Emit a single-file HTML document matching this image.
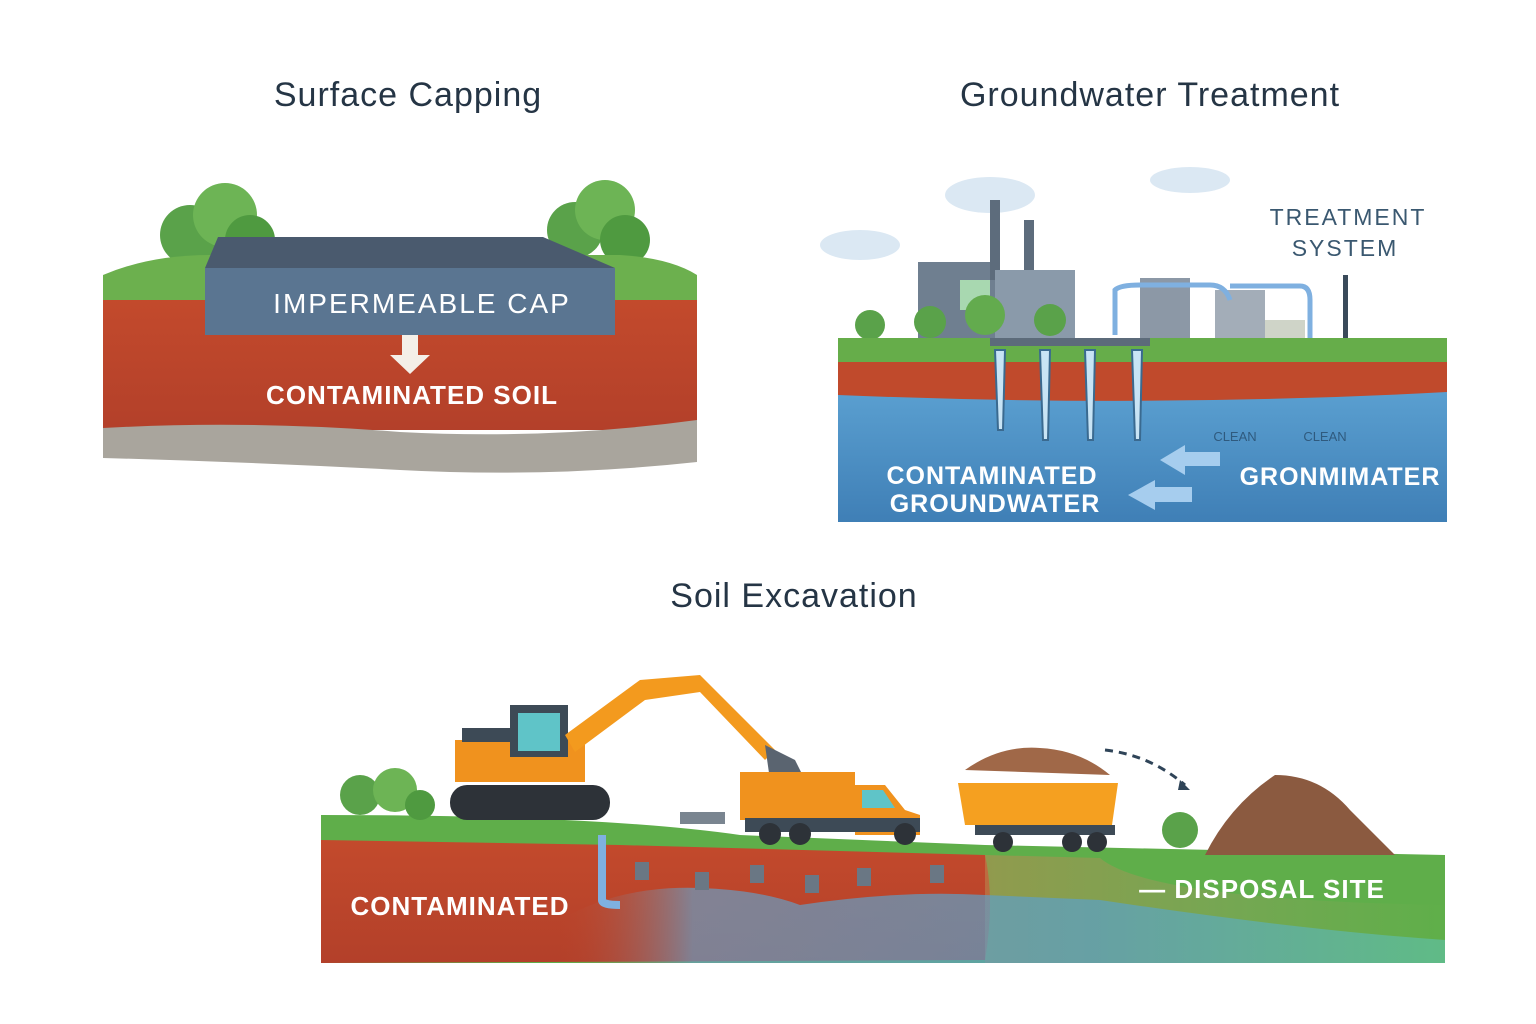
<!DOCTYPE html>
<html><head><meta charset="utf-8"><style>
html,body{margin:0;padding:0;background:#fff;}
svg{display:block}
text{font-family:"Liberation Sans","DejaVu Sans",sans-serif}
</style></head><body>
<svg width="1536" height="1024" viewBox="0 0 1536 1024" xmlns="http://www.w3.org/2000/svg">
<defs>
<linearGradient id="water" x1="0" y1="0" x2="0" y2="1"><stop offset="0" stop-color="#5a9fd0"/><stop offset="1" stop-color="#3f7fb6"/></linearGradient>
<linearGradient id="soil" x1="0" y1="0" x2="0" y2="1"><stop offset="0" stop-color="#c34a2c"/><stop offset="1" stop-color="#b3402a"/></linearGradient>
<linearGradient id="ex" x1="0" y1="0" x2="1" y2="0"><stop offset="0" stop-color="#b98a50"/><stop offset="0.5" stop-color="#8aa05a"/><stop offset="1" stop-color="#5fb04a"/></linearGradient>
<linearGradient id="exb" x1="0" y1="0" x2="1" y2="0"><stop offset="0" stop-color="#c04a2c" stop-opacity="0"/><stop offset="0.15" stop-color="#6a9cc0"/><stop offset="0.6" stop-color="#5aa0c8"/><stop offset="1" stop-color="#60c0a0"/></linearGradient>
</defs>
<rect width="1536" height="1024" fill="#fff"/>
<text x="408" y="106" font-size="34" fill="#253545" text-anchor="middle" letter-spacing="1">Surface Capping</text>
<text x="1150" y="106" font-size="34" fill="#253545" text-anchor="middle" letter-spacing="1">Groundwater Treatment</text>
<text x="794" y="607" font-size="34" fill="#253545" text-anchor="middle" letter-spacing="1">Soil Excavation</text>

<g>
<circle cx="190" cy="235" r="30" fill="#5aa24a"/><circle cx="225" cy="215" r="32" fill="#6db455"/><circle cx="250" cy="240" r="25" fill="#4f9a40"/>
<circle cx="575" cy="230" r="28" fill="#5aa24a"/><circle cx="605" cy="210" r="30" fill="#6db455"/><circle cx="625" cy="240" r="25" fill="#4f9a40"/>
<path d="M103 275 Q150 255 210 255 L620 255 Q670 258 697 275 L697 305 L103 305 Z" fill="#6cb04e"/>
<path d="M103 300 L697 300 L697 430 L103 430 Z" fill="url(#soil)"/>
<path d="M103 428 Q250 420 400 432 Q550 440 697 420 L697 462 Q550 478 400 470 Q250 462 103 458 Z" fill="#a9a59d"/>
<polygon points="218,237 543,237 615,268 205,268" fill="#4a5a6e"/>
<rect x="205" y="268" width="410" height="67" fill="#5a7591"/>
<text x="422" y="313" font-size="28" fill="#fff" text-anchor="middle" letter-spacing="2">IMPERMEABLE CAP</text>
<polygon points="402,335 418,335 418,355 430,355 410,374 390,355 402,355" fill="#f4efe8"/>
<text x="412" y="404" font-size="26" font-weight="bold" fill="#fff" text-anchor="middle" letter-spacing="1">CONTAMINATED SOIL</text>
</g>

<g>
<ellipse cx="990" cy="195" rx="45" ry="18" fill="#dbe8f3"/><ellipse cx="1190" cy="180" rx="40" ry="13" fill="#dbe8f3"/><ellipse cx="860" cy="245" rx="40" ry="15" fill="#dbe8f3"/>
<rect x="918" y="262" width="80" height="78" fill="#6f7f90"/>
<rect x="990" y="200" width="10" height="80" fill="#5d6c7c"/><rect x="1024" y="220" width="10" height="60" fill="#5d6c7c"/>
<rect x="995" y="270" width="80" height="70" fill="#8a9aaa"/>
<rect x="960" y="280" width="30" height="30" fill="#a8d8b0"/>
<circle cx="870" cy="325" r="15" fill="#5aa24a"/><circle cx="930" cy="322" r="16" fill="#5aa24a"/><circle cx="985" cy="315" r="20" fill="#63ab4e"/><circle cx="1050" cy="320" r="16" fill="#5aa24a"/>
<rect x="1140" y="278" width="50" height="62" fill="#8c98a6"/><rect x="1215" y="290" width="50" height="50" fill="#a3adb8"/><rect x="1265" y="320" width="40" height="25" fill="#cfd4c8"/>
<path d="M1115 335 L1115 290 Q1120 285 1140 285 L1210 285 Q1225 285 1230 300 M1230 286 L1300 286 Q1310 286 1310 300 L1310 350 Q1310 360 1360 360" stroke="#7fb0e0" stroke-width="5" fill="none"/>
<rect x="1343" y="275" width="5" height="68" fill="#3a4a5a"/>
<path d="M838 338 L1447 338 L1447 365 L838 365 Z" fill="#66ad4a"/>
<path d="M838 362 L1447 362 L1447 395 Q1150 410 838 398 Z" fill="#c04a2c"/>
<path d="M838 395 Q1150 408 1447 392 L1447 522 L838 522 Z" fill="url(#water)"/>
<rect x="990" y="338" width="160" height="8" fill="#5c6b7a"/>
<g fill="#c8e4f5" stroke="#3a6a90" stroke-width="2">
<path d="M995 350 L1005 350 L1003 430 L998 430 Z"/><path d="M1040 350 L1050 350 L1048 440 L1043 440 Z"/><path d="M1085 350 L1095 350 L1093 440 L1088 440 Z"/><path d="M1132 350 L1142 350 L1140 440 L1135 440 Z"/>
</g>
<polygon points="1220,452 1185,452 1185,445 1160,460 1185,475 1185,466 1220,466" fill="#a6cdee"/>
<polygon points="1192,487 1155,487 1155,480 1128,495 1155,510 1155,502 1192,502" fill="#a6cdee"/>
<text x="1348" y="225" font-size="23" fill="#3a5870" text-anchor="middle" letter-spacing="2">TREATMENT</text>
<text x="1345" y="256" font-size="23" fill="#3a5870" text-anchor="middle" letter-spacing="2">SYSTEM</text>
<text x="1235" y="441" font-size="13" fill="#2f5a7e" text-anchor="middle">CLEAN</text>
<text x="1325" y="441" font-size="13" fill="#2f5a7e" text-anchor="middle">CLEAN</text>
<text x="992" y="484" font-size="25" font-weight="bold" fill="#fff" text-anchor="middle" letter-spacing="1">CONTAMINATED</text>
<text x="995" y="512" font-size="25" font-weight="bold" fill="#fff" text-anchor="middle" letter-spacing="1">GROUNDWATER</text>
<text x="1340" y="485" font-size="25" font-weight="bold" fill="#fff" text-anchor="middle" letter-spacing="1">GRONMIMATER</text>
</g>

<g>
<path d="M321 815 Q600 815 740 835 L985 845 L1445 855 L1445 963 L321 963 Z" fill="#5fae4a"/>
<path d="M321 840 L620 845 L985 855 Q995 900 985 960 L321 963 Z" fill="url(#soil)"/>
<path d="M985 855 L1100 858 Q1150 900 1445 905 L1445 963 L985 963 Z" fill="url(#ex)" opacity="0.55"/>
<path d="M560 920 Q620 885 700 888 Q760 890 800 905 Q900 890 985 895 L1100 900 Q1300 930 1445 940 L1445 963 L560 963 Z" fill="url(#exb)" opacity="0.7"/>
<circle cx="360" cy="795" r="20" fill="#5aa24a"/><circle cx="395" cy="790" r="22" fill="#6db455"/><circle cx="420" cy="805" r="15" fill="#4f9a40"/>
<circle cx="1180" cy="830" r="18" fill="#5aa24a"/>
<rect x="450" y="785" width="160" height="35" rx="17" fill="#2d3238"/>
<rect x="455" y="740" width="130" height="42" fill="#f0921e"/>
<rect x="510" y="705" width="58" height="52" fill="#3d4a56"/><rect x="518" y="713" width="42" height="38" fill="#5fc4c8"/>
<rect x="462" y="728" width="48" height="14" fill="#3d4a56"/>
<path d="M565 735 L640 680 L700 675 L775 750 L765 760 L700 692 L645 700 L575 752 Z" fill="#f39a1e"/>
<path d="M765 745 L795 760 L805 780 L770 780 Z" fill="#5a6470"/>
<rect x="740" y="772" width="115" height="48" fill="#f0921e"/>
<path d="M855 785 L885 785 L905 810 L920 815 L920 835 L855 835 Z" fill="#f0921e"/>
<path d="M862 790 L883 790 L895 808 L862 808 Z" fill="#5fc4c8"/>
<rect x="745" y="818" width="175" height="14" fill="#3d4a56"/>
<circle cx="770" cy="834" r="11" fill="#2d3238"/><circle cx="800" cy="834" r="11" fill="#2d3238"/><circle cx="905" cy="834" r="11" fill="#2d3238"/>
<path d="M965 770 Q1000 745 1040 748 Q1080 750 1110 775 Z" fill="#a06848"/>
<path d="M958 783 L1118 783 L1112 825 L965 825 Z" fill="#f5a020"/>
<rect x="975" y="825" width="140" height="10" fill="#3d4a56"/>
<circle cx="1003" cy="842" r="10" fill="#2d3238"/><circle cx="1072" cy="842" r="10" fill="#2d3238"/><circle cx="1097" cy="842" r="10" fill="#2d3238"/>
<path d="M1105 750 Q1150 755 1185 785" stroke="#2f4458" stroke-width="3" stroke-dasharray="8 6" fill="none"/>
<polygon points="1180,780 1190,790 1178,790" fill="#2f4458"/>
<path d="M1205 855 Q1230 805 1275 775 Q1320 775 1350 810 Q1380 840 1395 855 Z" fill="#8b5a40"/>
<rect x="680" y="812" width="45" height="12" fill="#7a8590"/>
<path d="M602 835 L602 900 Q602 905 620 905" stroke="#7fb0e0" stroke-width="8" fill="none"/>
<g fill="#6a7784"><rect x="635" y="862" width="14" height="18"/><rect x="695" y="872" width="14" height="18"/><rect x="750" y="865" width="14" height="18"/><rect x="805" y="875" width="14" height="18"/><rect x="857" y="868" width="14" height="18"/><rect x="930" y="865" width="14" height="18"/></g>
<text x="460" y="915" font-size="26" font-weight="bold" fill="#fff" text-anchor="middle" letter-spacing="1">CONTAMINATED</text>
<text x="1262" y="898" font-size="26" font-weight="bold" fill="#fff" text-anchor="middle" letter-spacing="1">— DISPOSAL SITE</text>
</g>
</svg>
</body></html>
